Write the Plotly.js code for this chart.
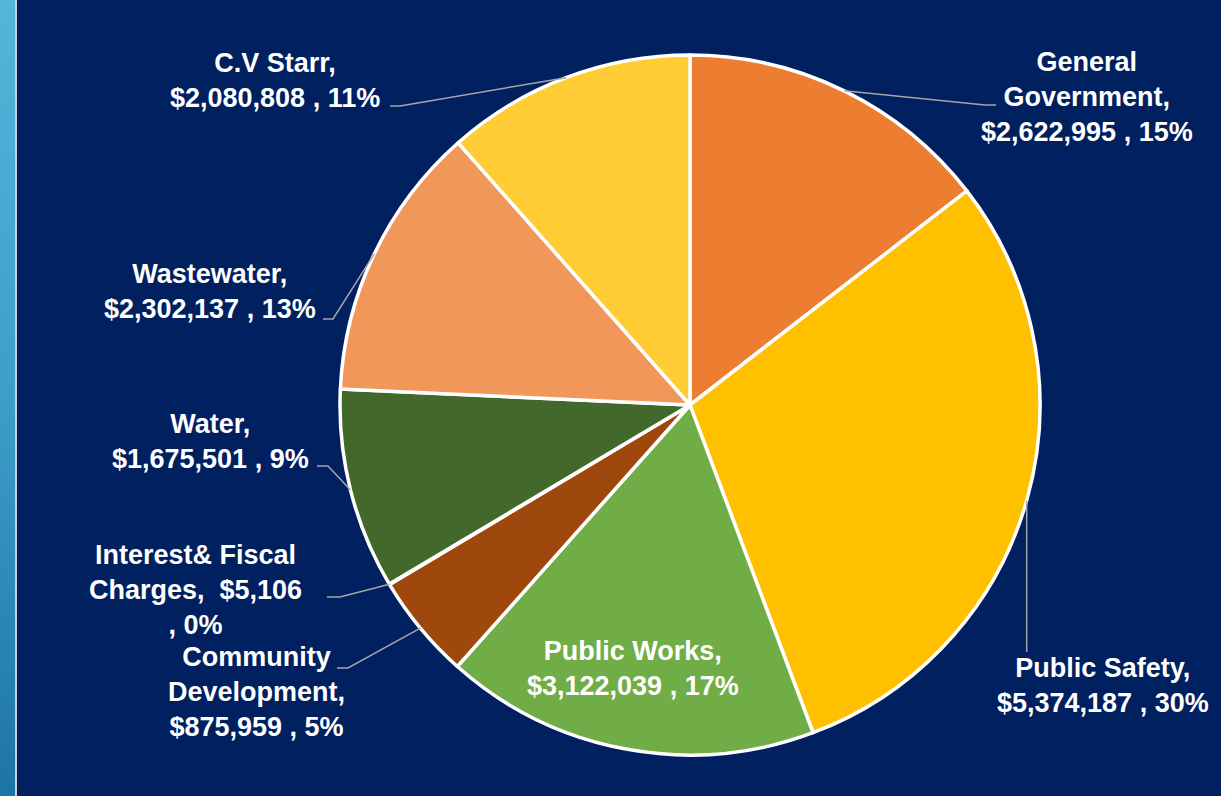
<!DOCTYPE html>
<html>
<head>
<meta charset="utf-8">
<script src="https://cdn.plot.ly/plotly-3.0.1.min.js"></script>
<style>
  html, body { margin: 0; padding: 0; width: 1221px; height: 796px; overflow: hidden; background: #002060; }
  #strip { position: absolute; left: 0; top: 0; width: 15px; height: 796px;
           background: linear-gradient(to bottom, #52b7da 0%, #3d9ec9 50%, #1d74a6 100%); }
  #rule { position: absolute; left: 15px; top: 0; width: 2px; height: 796px; background: #c9cdd6; }
  #chart { position: absolute; left: 0; top: 0; width: 1221px; height: 796px; }
</style>
</head>
<body>
<div id="strip"></div>
<div id="rule"></div>
<div id="chart"></div>
<script>
// ---- data ----
const categories = ["General Government", "Public Safety", "Public Works", "Community Development",
                    "Interest& Fiscal Charges", "Water", "Wastewater", "C.V Starr"];
const amounts = [2622995, 5374187, 3122039, 875959, 5106, 1675501, 2302137, 2080808];
const percents = ["15%", "30%", "17%", "5%", "0%", "9%", "13%", "11%"];
const labelText = [
  "General<br>Government,<br>$2,622,995 , 15%",
  "Public Safety,<br>$5,374,187 , 30%",
  "Public Works,<br>$3,122,039 , 17%",
  "Community<br>Development,<br>$875,959 , 5%",
  "Interest& Fiscal<br>Charges,  $5,106<br>, 0%",
  "Water,<br>$1,675,501 , 9%",
  "Wastewater,<br>$2,302,137 , 13%",
  "C.V Starr,<br>$2,080,808 , 11%"
];
const sliceColors = ["#ED7D31", "#FFC000", "#70AD47", "#9E480E", "#997300", "#43682B", "#F1975A", "#FFCD33"];

// ---- layout constants (pixels) ----
const W = 1221, H = 796;
const CX = 690, CY = 405, R = 350;
const px = x => x / W;
const py = y => 1 - y / H;

// label block centres and leader-line elbows (pixels)
const labelPos = [
  [1087, 97], [1103, 685], [633, 668], [256, 692],
  [195, 590], [210, 441], [210, 292], [275, 80]
];
// leader: [elbowX, elbowY, endX] or "vertical" or null
const leaders = [
  [985, 105, 996], "vertical", null, [348, 668, 337],
  [340, 597, 327], [328, 466, 317], [333, 319, 323], [400, 106, 390]
];

// slice mid-angle edge points, computed from the data
const total = amounts.reduce((a, b) => a + b, 0);
let cum = 0;
const edgePts = amounts.map(v => {
  const mid = (cum + v / 2) / total; cum += v;
  const ang = mid * 2 * Math.PI; // clockwise from 12 o'clock
  return [CX + R * Math.sin(ang), CY - R * Math.cos(ang)];
});

const shapes = [];
leaders.forEach((ld, i) => {
  if (!ld) return;
  const [ex, ey] = edgePts[i];
  let path;
  if (ld === "vertical") {
    path = `M ${px(ex)} ${py(ey)} L ${px(ex)} ${py(652)}`;
  } else {
    path = `M ${px(ex)} ${py(ey)} L ${px(ld[0])} ${py(ld[1])} L ${px(ld[2])} ${py(ld[1])}`;
  }
  shapes.push({ type: "path", xref: "paper", yref: "paper", path: path,
                line: { color: "#a6a6a6", width: 1.5 } });
});

const annotations = labelText.map((t, i) => ({
  xref: "paper", yref: "paper", x: px(labelPos[i][0]), y: py(labelPos[i][1]),
  xanchor: "center", yanchor: "middle", align: "center", showarrow: false,
  text: t,
  font: { family: "Liberation Sans, Arial, sans-serif", size: 27, color: "#ffffff", weight: 700 }
}));

const trace = {
  type: "pie",
  labels: categories,
  values: amounts,
  sort: false,
  direction: "clockwise",
  rotation: 0,
  textinfo: "none",
  hoverinfo: "label+value+percent",
  marker: { colors: sliceColors, line: { color: "#ffffff", width: 3.5 } },
  domain: { x: [px(CX - R), px(CX + R)], y: [py(CY + R), py(CY - R)] },
  showlegend: false
};

const layout = {
  width: W, height: H,
  margin: { l: 0, r: 0, t: 0, b: 0 },
  paper_bgcolor: "rgba(0,0,0,0)",
  plot_bgcolor: "rgba(0,0,0,0)",
  showlegend: false,
  shapes: shapes,
  annotations: annotations
};

Plotly.newPlot("chart", [trace], layout, { displayModeBar: false, staticPlot: true });
</script>
</body>
</html>
